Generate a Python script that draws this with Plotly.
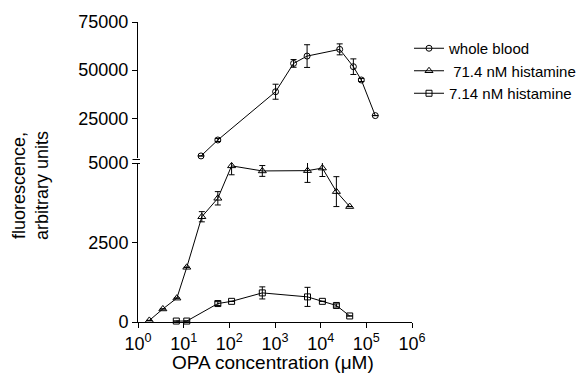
import plotly.graph_objects as go

# ---- data ----
wb_x = [24, 56, 1030, 2550, 5040, 26100, 52000, 77600, 157000]
wb_y = [5450, 13750, 38800, 53500, 57300, 60800, 51800, 44900, 26400]
wb_err = [0, 800, 3900, 2000, 5900, 2850, 4050, 800, 0]

h71_x = [1.77, 3.5, 7.1, 11.7, 25, 56, 112, 527, 5150, 10900, 22100, 43200]
h71_y = [50, 410, 750, 1720, 3310, 3890, 4910, 4750, 4760, 4840, 4100, 3630]
h71_err = [0, 0, 0, 0, 160, 210, 280, 170, 370, 265, 470, 0]

h7_x = [6.9, 11.7, 56, 112, 527, 5150, 10900, 22100, 43200]
h7_y = [30, 30, 580, 650, 915, 790, 650, 520, 190]
h7_err = [0, 0, 60, 0, 190, 300, 0, 50, 0]

x_tickvals = [1, 10, 100, 1000, 10000, 100000, 1000000]
x_ticktext = ["10<sup>%d</sup>" % i for i in range(7)]
low_ticks = [0, 2500, 5000]
up_ticks = [25000, 50000, 75000]

FONT = "Liberation Sans, Arial, Helvetica, sans-serif"

W, H = 583, 378
ml, mr, mt, mb = 138, 171, 22, 56
ph = H - mt - mb
pw = W - ml - mr

def py(pix):
    return (H - mb - pix) / ph

def px(pix):
    return (pix - ml) / pw

fig = go.Figure()

def err(arr):
    return dict(type="data", array=arr, visible=True, color="black", thickness=1, width=3)

fig.add_trace(go.Scatter(x=wb_x, y=wb_y, yaxis="y2", mode="lines+markers", name="whole blood",
                         line=dict(color="black", width=1), cliponaxis=False,
                         marker=dict(symbol="circle-open", size=6, color="black", line=dict(width=1)),
                         error_y=err(wb_err)))
fig.add_trace(go.Scatter(x=h71_x, y=h71_y, yaxis="y", mode="lines+markers", name=" 71.4 nM histamine",
                         line=dict(color="black", width=1), cliponaxis=False,
                         marker=dict(symbol="triangle-up-open", size=7, color="black", line=dict(width=1)),
                         error_y=err(h71_err)))
fig.add_trace(go.Scatter(x=h7_x, y=h7_y, yaxis="y", mode="lines+markers", name="7.14 nM histamine",
                         line=dict(color="black", width=1), cliponaxis=False,
                         marker=dict(symbol="square-open", size=6, color="black", line=dict(width=1)),
                         error_y=err(h7_err)))

low_top = py(163)
up_bot = py(158)
# upper scale: 25000 at 118.3 px and 75000 at 22 px
per_px = 50000 / (118.3 - 22)
up_min = 25000 - (158 - 118.3) * per_px
up_max = 75000

axis_common = dict(showline=True, linecolor="black", linewidth=1, ticks="outside", ticklen=5,
                   tickcolor="black", showgrid=False, zeroline=False,
                   tickfont=dict(family=FONT, size=18, color="black"))

fig.update_layout(
    width=W, height=H, margin=dict(l=ml, r=mr, t=mt, b=mb, autoexpand=False),
    paper_bgcolor="white", plot_bgcolor="white",
    xaxis=dict(type="log", range=[0, 6], tickvals=x_tickvals, ticktext=x_ticktext,
               anchor="y", **axis_common),
    yaxis=dict(domain=[0, low_top], range=[0, 5000], tickvals=low_ticks, tickformat="d",
               anchor="x", **axis_common),
    yaxis2=dict(domain=[up_bot, 1], range=[up_min, up_max], tickvals=up_ticks, tickformat="d",
                anchor="x", **axis_common),
    legend=dict(x=px(409), y=py(32), xanchor="left", yanchor="top",
                font=dict(family=FONT, size=15, color="black"), bgcolor="rgba(0,0,0,0)",
                tracegroupgap=0, itemwidth=30),
    showlegend=True,
)

fig.add_annotation(text="OPA concentration (\u03bcM)", xref="paper", yref="paper",
                   x=px(273), y=py(362), xanchor="center", yanchor="middle", showarrow=False,
                   font=dict(family=FONT, size=19, color="black"))
fig.add_annotation(text="fluorescence,<br>arbitrary units", xref="paper", yref="paper",
                   x=px(30), y=py(186), xanchor="center", yanchor="middle",
                   showarrow=False, textangle=-90,
                   font=dict(family=FONT, size=18, color="black"))

# axis break marks
for yp in (159.5, 163.5):
    fig.add_shape(type="line", xref="paper", yref="paper",
                  x0=px(132.5), x1=px(140), y0=py(yp), y1=py(yp),
                  line=dict(color="black", width=1))

fig.write_html("out.html")
